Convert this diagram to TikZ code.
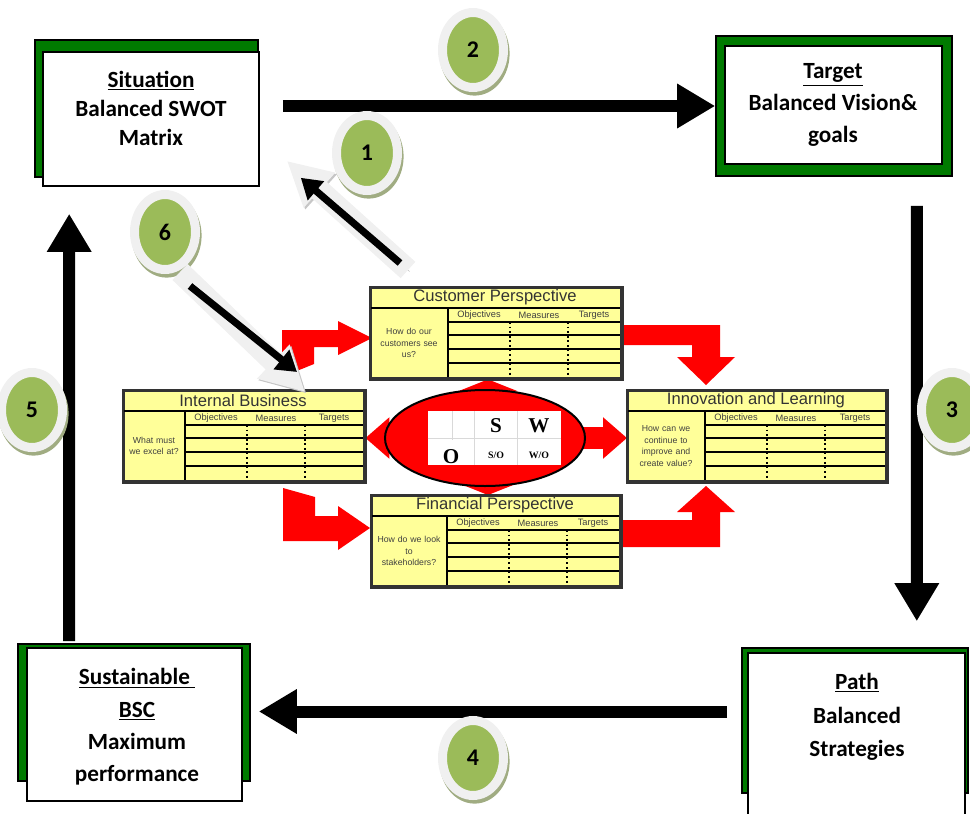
\documentclass[tikz,border=0pt]{standalone}
\usepackage{fontspec}
\newfontfamily\boxfont{Carlito}
\newfontfamily\tabfont{Liberation Sans}
\newfontfamily\swotfont{Liberation Serif}
\usepackage{tikz}
\usetikzlibrary{shapes.geometric, arrows.meta, positioning, calc, backgrounds}
\definecolor{panelgreen}{RGB}{0,122,0}
\definecolor{numgreen}{RGB}{155,187,89}
\definecolor{numshade}{RGB}{160,172,130}
\definecolor{tabyellow}{RGB}{255,255,153}
\tikzset{
  % corner boxes
  greenpanel/.style={rectangle, draw=black, line width=0.4mm, fill=panelgreen, inner sep=0pt},
  whitebox/.style={rectangle, draw=black, line width=0.4mm, fill=white, inner sep=0pt},
  boxtext/.style={align=center, inner sep=0pt, font=\boxfont\bfseries\fontsize{16.5}{#1}\selectfont},
  boxtext/.default=22.5,
  % numbered steps
  stepnum/.style={ellipse, minimum width=15.25mm, minimum height=18.75mm, inner sep=0pt, fill=numgreen, draw=gray!12, line width=2.25mm, font=\boxfont\bfseries\fontsize{17}{20}\selectfont, preaction={draw=numshade, transform canvas={shift={(0.4mm,-0.9mm)}}}},
  % arrows
  bigarrow/.style={line width=3mm, -{Triangle[length=9.5mm, width=10.5mm]}},
  fatarrow/.style={draw=gray!12, line width=5.5mm, -{Triangle[length=11mm, width=11mm]}, preaction={draw=gray!45, transform canvas={shift={(0.4mm,-0.4mm)}}}},
  thinarrow/.style={line width=1.8mm, -{Triangle[length=5mm, width=6mm]}},
  redarrow/.style={draw=red, line width=5.5mm, -{Triangle[length=6mm, width=10mm]}},
  redflat/.style={draw=red, line width=5.5mm, -{Triangle[length=3mm, width=15mm]}},
  redbend/.style={fill=red},
  % BSC tables
  tabframe/.style={rectangle, anchor=north west, fill=tabyellow, draw=black!80, line width=0.6mm, inner sep=0pt, minimum height=22.5mm},
  tabtitle/.style={font=\tabfont\fontsize{11.8}{13}\selectfont, text=black!80, inner sep=0pt},
  tabhead/.style={font=\tabfont\fontsize{6.6}{7}\selectfont, text=black!75, inner sep=0pt},
  tabask/.style={font=\tabfont\fontsize{6.2}{8.3}\selectfont, text=black!75, align=center, text width=19mm, inner sep=0pt},
  swotcell/.style={font=\swotfont\bfseries\fontsize{15}{15}\selectfont, inner sep=0pt},
  swotsmall/.style={font=\swotfont\bfseries\fontsize{7}{7}\selectfont, inner sep=0pt},
}
% name, x, y, width, question column, title, question
\newcommand{\bsctable}[7]{%
  \node[tabframe, minimum width=#4*0.25mm] (#1) at (#2,#3) {};
  \begin{scope}[shift={(#1.north west)}]
    \draw[line width=0.55mm] (0,21) -- (#4,21) (#5,21) -- (#5,90);
    \draw[line width=0.4mm] \foreach \r in {35,48,62,76} {(#5,\r) -- (#4,\r)};
    \draw[line width=0.45mm, dotted] (#5+62,35) -- (#5+62,90) (#5+120,35) -- (#5+120,90);
    \node[tabtitle] (#1-title) at (#4/2,10.5) {#6};
    \node[tabhead] (#1-obj) at (#5+31,28) {Objectives};
    \node[tabhead] (#1-mea) at (#5+91,28) {Measures};
    \node[tabhead] (#1-tar) at ({#5+120+(#4-#5-120)/2},28) {Targets};
    \node[tabask] (#1-ask) at (#5/2,56) {#7};
  \end{scope}
  \draw[draw=black!80, line width=0.6mm] (#1.north west) rectangle (#1.south east);
}

\begin{document}
\begin{tikzpicture}[x=0.25mm, y=-0.25mm]
    \useasboundingbox (0,0) rectangle (970,814);
    \clip (0,0) rectangle (970,814);

    % bent arrows between the perspectives
    \fill[redbend] (282,377) -- (282,330) -- (338,330) -- (338,321) -- (372,338) -- (338,355) -- (338,347) -- (314,347) -- (314,364) -- cycle;
    \fill[redbend] (622,325) -- (720,325) -- (720,357) -- (735,357) -- (706,385) -- (677,357) -- (692,357) -- (692,345) -- (622,345) -- cycle;
    \fill[redbend] (283,488) -- (315,497) -- (315,516) -- (338,516) -- (338,506) -- (370,528) -- (338,550) -- (338,541) -- (283,541) -- cycle;
    \fill[redbend] (622,520) -- (692,520) -- (692,512) -- (677,512) -- (706,486) -- (735,512) -- (720,512) -- (720,547) -- (622,547) -- cycle;

    % Perspectives
    \bsctable{cust}{370}{287}{250}{78}{Customer Perspective}{How do our\\customers see\\us?}
    \bsctable{intb}{123}{390}{240}{62}{Internal Business}{What must\\we excel at?}
    \bsctable{innov}{627}{390}{258}{78}{Innovation and Learning}{How can we\\continue to\\improve and\\create value?}
    \bsctable{fin}{371}{495}{248}{76}{Financial Perspective}{How do we look\\to\\stakeholders?}

    % SWOT
    \node[ellipse, fill=red, draw=black, line width=0.5mm, minimum width=50mm, minimum height=24mm] (swot) at (485,438) {};
    \begin{scope}[on background layer]
      \draw[redarrow] (swot.center) -- (swot.center -| intb.east);
      \draw[redarrow] (swot.center) -- (swot.center -| innov.west);
      \draw[redflat] ([xshift=0.75mm]swot.center) -- ([xshift=0.75mm]swot.center |- cust.south);
      \draw[redflat] ([xshift=0.75mm]swot.center) -- ([xshift=0.75mm]swot.center |- fin.north);
    \end{scope}
    \node[rectangle, fill=white, minimum width=33.25mm, minimum height=13.5mm, inner sep=0pt] (grid) at (494.5,438) {};
    \draw[gray!30, line width=0.25mm] (grid.west) -- (grid.east) (474,411) -- (474,465) (517,411) -- (517,465) (452,411) -- (452,440);
    \node[swotcell] (sw-s) at (496,426) {S};
    \node[swotcell] (sw-w) at (539,426) {W};
    \node[swotcell] (sw-o) at (451,457) {O};
    \node[swotsmall] (sw-so) at (496,455) {S/O};
    \node[swotsmall] (sw-wo) at (539,455) {W/O};

    % Situation
    \node[greenpanel, minimum width=55.75mm, minimum height=34.25mm] (sitback) at (146.5,108.5) {};
    \node[whitebox, minimum width=54mm, minimum height=33.5mm] (sit) at (151,119) {};
    \node[boxtext=20.6] (sit-text) at (151,108) {\underline{Situation}\\Balanced SWOT\\Matrix};

    % Target
    \node[greenpanel, minimum width=59mm, minimum height=35mm] (tgt) at (834,106) {};
    \node[whitebox, minimum width=54.25mm, minimum height=29.5mm] (tgtin) at (833.5,105) {};
    \node[boxtext] (tgt-text) at (833,105) {\underline{Target}\\Balanced Vision\&\\goals};

    % Path
    \node[greenpanel, minimum width=56.5mm, minimum height=36.25mm] (pathback) at (855,720.5) {};
    \node[whitebox, minimum width=54.25mm, minimum height=46.75mm] (path) at (856.5,746.5) {};
    \node[boxtext=24] (path-text) at (857,717) {\underline{Path}\\Balanced\\Strategies};

    % Sustainable BSC
    \node[greenpanel, minimum width=58mm, minimum height=34.25mm] (sustback) at (134,712.5) {};
    \node[whitebox, minimum width=53.75mm, minimum height=38.25mm] (sust) at (134.5,724.5) {};
    \node[boxtext=23] (sust-text) at (137,727) {\underline{Sustainable\ }\\\underline{BSC}\\Maximum\\performance};

    % Cycle arrows
    \draw[bigarrow] ($(sit.east |- tgt.west)+(23,0)$) -- (tgt.west);
    \draw[bigarrow] ($(tgt.south east)+(-36,29)$) -- ($(pathback.north east)+(-52,-26)$);
    \draw[bigarrow] ($(pathback.west)+(-14,-9)$) -- ($(sustback.east)+(8,-1)$);
    \draw[bigarrow] ($(sustback.north west)+(52,-2)$) -- ($(sit.south west)+(27,27)$);

    % Numbers
    \node[stepnum] (n1) at (367,153) {1};
    \node[stepnum] (n2) at (473,50) {2};
    \node[stepnum] (n3) at (952,410) {3};
    \node[stepnum] (n4) at (473,758) {4};
    \node[stepnum] (n5) at (32,410) {5};
    \node[stepnum] (n6) at (165,232) {6};

    % Links to the scorecard
    \draw[fatarrow] ($(cust.north west)+(38,-17)$) -- ($(sit.south east)+(27,-26)$);
    \draw[thinarrow] ($(cust.north west)+(30,-24)$) -- ($(sit.south east)+(41,-9)$);
    \draw[fatarrow] ($(n6.south)+(15,-2)$) -- ($(intb.north west)+(182,2)$);
    \draw[thinarrow] ($(n6.south)+(25,12)$) -- ($(intb.north west)+(174,-18)$);
\end{tikzpicture}
\end{document}
